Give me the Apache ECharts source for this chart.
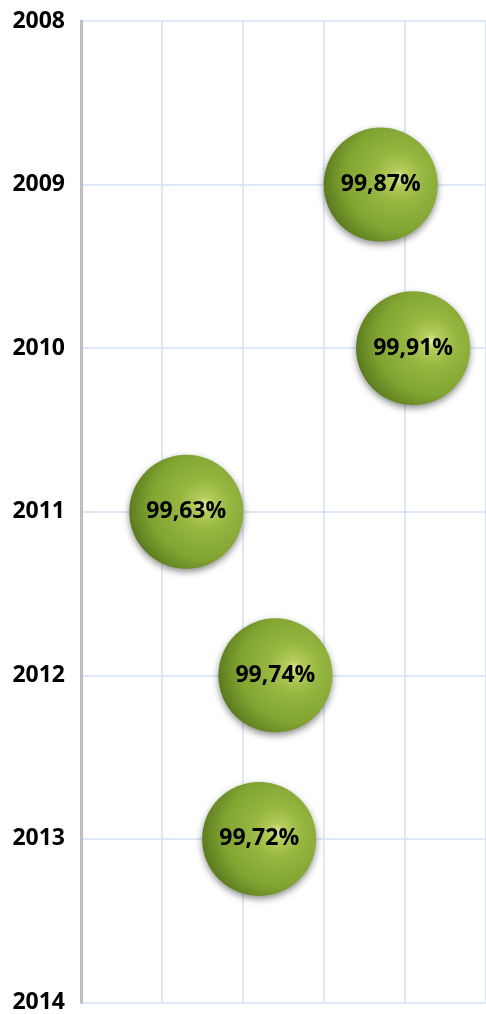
<!DOCTYPE html>
<html>
<head>
<meta charset="utf-8">
<script src="https://cdn.jsdelivr.net/npm/echarts@6/dist/echarts.min.js"></script>
<style>
  html, body { margin: 0; padding: 0; background: #fff; }
  #chart { width: 486px; height: 1014px; }
</style>
</head>
<body>
<div id="chart"></div>
<script>
// availability per year
const years = [2009, 2010, 2011, 2012, 2013];
const rates = [99.87, 99.91, 99.63, 99.74, 99.72];

const yearMin = 2008;
const yearMax = 2014;
const rateMin = 99.5;
const rateMax = 100.0;

const gridColor = "#d3e1f6";

// olive sphere, soft highlight right of centre, dark lower-left rim
const sphere = {
  type: "radial",
  x: 0.66,
  y: 0.44,
  r: 0.76,
  colorStops: [
    { offset: 0, color: "#dfe89c" },
    { offset: 0.1, color: "#b3cb5a" },
    { offset: 0.3, color: "#95b640" },
    { offset: 0.62, color: "#82a432" },
    { offset: 0.85, color: "#5f8020" },
    { offset: 1, color: "#3a5410" },
  ],
};

const chart = echarts.init(document.getElementById("chart"), null, {
  renderer: "canvas",
});

chart.setOption({
  animation: false,
  backgroundColor: "#ffffff",
  grid: { left: 81, right: 0, top: 21, bottom: 9 },
  xAxis: {
    type: "value",
    min: rateMin,
    max: rateMax,
    interval: 0.1,
    axisLine: { show: false },
    axisTick: { show: false },
    axisLabel: { show: false },
    splitLine: { lineStyle: { color: gridColor, width: 1.5 } },
  },
  yAxis: {
    type: "value",
    inverse: true,
    min: yearMin,
    max: yearMax,
    interval: 1,
    axisLine: { show: true, lineStyle: { color: "#bfbfbf", width: 3 } },
    axisTick: { show: false },
    axisLabel: {
      color: "#000",
      fontFamily: "Open Sans",
      fontWeight: "bold",
      fontSize: 23,
      margin: 16,
      formatter: (v) => String(v),
    },
    splitLine: { lineStyle: { color: gridColor, width: 1.5 } },
  },
  series: [
    {
      type: "scatter",
      symbol: "circle",
      symbolSize: 114,
      data: years.map((y, i) => [rates[i], y]),
      itemStyle: {
        color: sphere,
        opacity: 1,
        shadowBlur: 7,
        shadowOffsetY: 3,
        shadowColor: "rgba(0,0,0,0.45)",
      },
      label: {
        show: true,
        position: "inside",
        color: "#000",
        fontFamily: "Open Sans",
        fontWeight: "bold",
        fontSize: 23,
        formatter: (p) => p.value[0].toFixed(2).replace(".", ",") + "%",
      },
    },
  ],
});
</script>
</body>
</html>
